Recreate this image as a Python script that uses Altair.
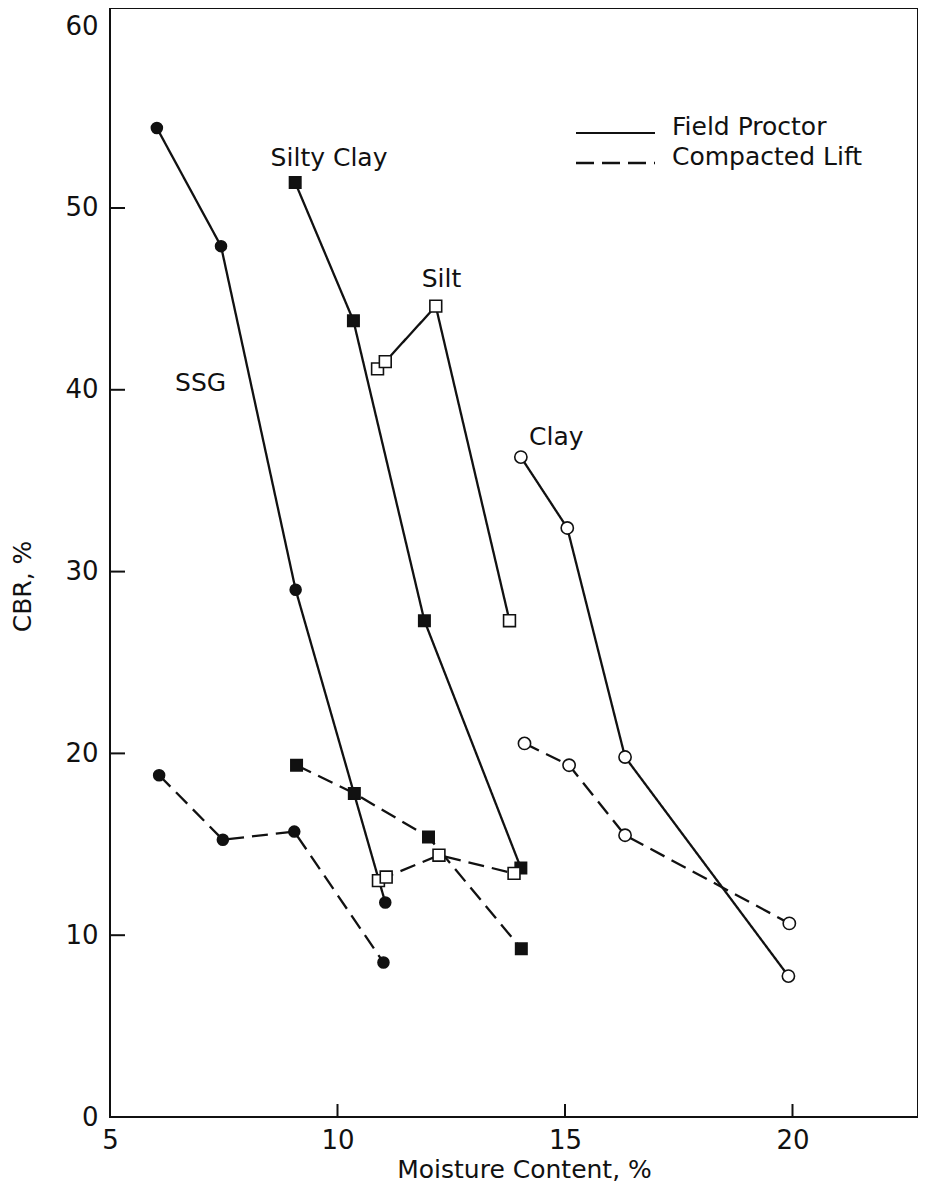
import altair as alt
import pandas as pd

# ---------------- data ----------------
soils = ["SSG", "Silty Clay", "Silt", "Clay"]
tests = ["Field Proctor", "Compacted Lift"]

ssg_fp_x = [6.03, 7.44, 9.08, 11.05]
ssg_fp_y = [54.4, 47.9, 29.0, 11.8]
ssg_cl_x = [6.08, 7.48, 9.05, 11.01]
ssg_cl_y = [18.8, 15.25, 15.7, 8.5]

sc_fp_x = [9.07, 10.35, 11.91, 14.03]
sc_fp_y = [51.4, 43.8, 27.3, 13.7]
sc_cl_x = [9.10, 10.37, 12.00, 14.04]
sc_cl_y = [19.35, 17.8, 15.4, 9.25]

silt_fp_x = [10.88, 11.05, 12.16, 13.78]
silt_fp_y = [41.15, 41.55, 44.6, 27.3]
silt_cl_x = [10.90, 11.07, 12.23, 13.88]
silt_cl_y = [13.0, 13.2, 14.4, 13.4]

clay_fp_x = [14.03, 15.05, 16.32, 19.91]
clay_fp_y = [36.3, 32.4, 19.8, 7.75]
clay_cl_x = [14.11, 15.09, 16.32, 19.93]
clay_cl_y = [20.55, 19.35, 15.5, 10.65]

ann_text = ["SSG", "Silty Clay", "Silt", "Clay"]
ann_x = [6.43, 8.53, 11.85, 14.21]
ann_y = [40.4, 52.75, 46.1, 37.4]

x_tick_vals = [10, 15, 20]
y_tick_vals = [10, 20, 30, 40, 50]
x_label_vals = [5, 10, 15, 20]
y_label_vals = [0, 10, 20, 30, 40, 50, 60]

# ---------------- build table ----------------
series = [
    ("SSG", "Field Proctor", ssg_fp_x, ssg_fp_y),
    ("SSG", "Compacted Lift", ssg_cl_x, ssg_cl_y),
    ("Silty Clay", "Field Proctor", sc_fp_x, sc_fp_y),
    ("Silty Clay", "Compacted Lift", sc_cl_x, sc_cl_y),
    ("Silt", "Field Proctor", silt_fp_x, silt_fp_y),
    ("Silt", "Compacted Lift", silt_cl_x, silt_cl_y),
    ("Clay", "Field Proctor", clay_fp_x, clay_fp_y),
    ("Clay", "Compacted Lift", clay_cl_x, clay_cl_y),
]
rows = []
for soil, test, xs_, ys_ in series:
    for i, (a, b) in enumerate(zip(xs_, ys_)):
        rows.append({"soil": soil, "test": test, "series": soil + " " + test,
                     "idx": i, "x": a, "y": b})
df = pd.DataFrame(rows)
ann = pd.DataFrame({"t": ann_text, "x": ann_x, "y": ann_y})

FONT = "DejaVu Sans"
INK = "#111111"
W, H = 808, 1109
PXX = 45.5            # pixels per x unit
PXY = H / 61.0        # pixels per y unit
X0, Y0 = 5.0, 0.0     # axis origin
YTICK_LEN = 15 / PXX  # inward tick length, in x units
XTICK_LEN = 13 / PXY  # inward tick length, in y units

xs = alt.Scale(domain=[5, 5 + W / PXX], nice=False, zero=False)
ys = alt.Scale(domain=[0, 61], nice=False, zero=False)

x_axis = alt.Axis(values=x_label_vals, title="Moisture Content, %", format="d",
                  ticks=False, domain=False, grid=False, labelFlush=False,
                  labelOverlap=False, labelPadding=10, labelFontSize=26,
                  titleFontSize=25, titleX=414, titleY=52,
                  titleBaseline="middle", titleAlign="center")
y_axis = alt.Axis(values=y_label_vals, title="CBR, %", format="d",
                  ticks=False, domain=False, grid=False, labelFlush=False,
                  labelOverlap=False, labelPadding=12, labelFontSize=26,
                  titleFontSize=25, titleX=-88, titleY=578, titleAngle=270,
                  titleBaseline="middle", titleAlign="center")

# inward tick segments, as two-point lines on the shared scales
tick_rows = []
for v in y_tick_vals:
    tick_rows.append({"k": f"y{v}", "o": 0, "x": X0, "y": v})
    tick_rows.append({"k": f"y{v}", "o": 1, "x": X0 + YTICK_LEN, "y": v})
for u in x_tick_vals:
    tick_rows.append({"k": f"x{u}", "o": 0, "x": u, "y": Y0})
    tick_rows.append({"k": f"x{u}", "o": 1, "x": u, "y": Y0 + XTICK_LEN})
ticks_df = pd.DataFrame(tick_rows)

base = alt.Chart(df)

lines = base.mark_line(color=INK, strokeWidth=2.3).encode(
    x=alt.X("x:Q", scale=xs, axis=x_axis),
    y=alt.Y("y:Q", scale=ys, axis=y_axis),
    strokeDash=alt.StrokeDash("test:N",
                              scale=alt.Scale(domain=tests, range=[[1, 0], [16, 8]]),
                              legend=None),
    detail="series:N",
    order=alt.Order("idx:Q"),
)

points = base.mark_point(filled=True, stroke=INK, strokeWidth=1.6,
                         opacity=1, fillOpacity=1).encode(
    x=alt.X("x:Q", scale=xs, axis=x_axis),
    y=alt.Y("y:Q", scale=ys, axis=y_axis),
    shape=alt.Shape("soil:N", scale=alt.Scale(domain=soils,
                    range=["circle", "square", "square", "circle"]), legend=None),
    fill=alt.Fill("soil:N", scale=alt.Scale(domain=soils,
                  range=[INK, INK, "white", "white"]), legend=None),
    size=alt.Size("soil:N", scale=alt.Scale(domain=soils,
                  range=[120, 150, 140, 110]), legend=None),
)

labels = alt.Chart(ann).mark_text(font=FONT, fontSize=25, color=INK,
                                  align="left", baseline="middle").encode(
    x=alt.X("x:Q", scale=xs, axis=x_axis),
    y=alt.Y("y:Q", scale=ys, axis=y_axis),
    text="t:N",
)

ticks = alt.Chart(ticks_df).mark_line(color=INK, strokeWidth=2).encode(
    x=alt.X("x:Q", scale=xs, axis=x_axis),
    y=alt.Y("y:Q", scale=ys, axis=y_axis),
    detail="k:N",
    order=alt.Order("o:Q"),
)

# manual legend (line samples + labels)
one = pd.DataFrame({"k": [0]})
leg_solid = alt.Chart(one).mark_rule(color=INK, strokeWidth=2.2).encode(
    x=alt.value(466), x2=alt.value(545), y=alt.value(125))
leg_dash = alt.Chart(one).mark_rule(color=INK, strokeWidth=2.6,
                                    strokeDash=[18, 8]).encode(
    x=alt.value(466), x2=alt.value(545), y=alt.value(155))
leg_t1 = alt.Chart(one).mark_text(font=FONT, fontSize=25, color=INK, align="left",
                                  baseline="alphabetic", text=tests[0]).encode(
    x=alt.value(562), y=alt.value(127))
leg_t2 = alt.Chart(one).mark_text(font=FONT, fontSize=25, color=INK, align="left",
                                  baseline="alphabetic", text=tests[1]).encode(
    x=alt.value(562), y=alt.value(157))

chart = alt.layer(
    lines, points, labels, ticks, leg_solid, leg_dash, leg_t1, leg_t2
).properties(
    width=W, height=H,
    autosize=alt.AutoSizeParams(type="none"),
    padding={"left": 102, "top": 0, "right": 0, "bottom": 68},
    background="white",
).configure_view(
    stroke=INK, strokeWidth=2
).configure_axis(
    labelFont=FONT, titleFont=FONT, labelColor=INK, titleColor=INK,
    titleFontWeight="normal",
)

chart.save("out.html", embed_options={"renderer": "svg", "actions": False})
